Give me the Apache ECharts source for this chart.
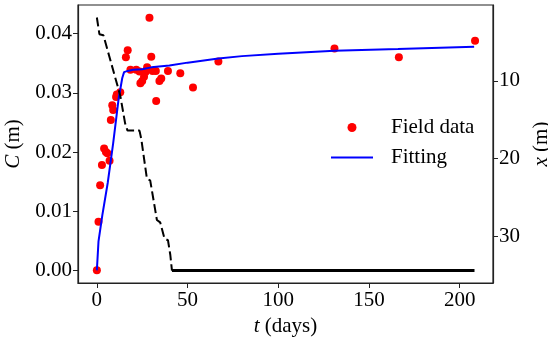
<!DOCTYPE html>
<html>
<head>
<meta charset="utf-8">
<script src="https://cdn.jsdelivr.net/npm/echarts@6/dist/echarts.min.js"></script>
<style>
html,body{margin:0;padding:0;background:#fff;}
#c{width:548px;height:340px;}
</style>
</head>
<body>
<div id="c"></div>
<script>
// Field data (t in days, C in m)
var fieldT = [0, 0.9, 1.8, 2.8, 4, 5, 5.8, 7, 7.7, 8.5, 9, 10.6, 11, 12.9, 16, 17, 18.5, 21.7, 23.5, 24, 25, 26, 26.8, 27.7, 29, 30, 30.7, 32.5, 32.7, 34.5, 35.5, 39.2, 46, 53, 67, 131, 166.5, 208.5];
var fieldC = [0, 0.0082, 0.0144, 0.0178, 0.0206, 0.0200, 0.0198, 0.0185, 0.0254, 0.0279, 0.0271, 0.0293, 0.0297, 0.0301, 0.0360, 0.0372, 0.0339, 0.0339, 0.0336, 0.0316, 0.0320, 0.0327, 0.0335, 0.0343, 0.0427, 0.0361, 0.0337, 0.0337, 0.0286, 0.0320, 0.0324, 0.0337, 0.0333, 0.0309, 0.0353, 0.0375, 0.0360, 0.0388];
// Fitting curve
var fitT = [0, 0.9, 3, 6, 9, 12, 14, 15, 17, 20, 25, 30, 40, 50, 67, 80, 100, 131, 166, 208];
var fitC = [0, 0.0049, 0.0093, 0.0148, 0.0215, 0.0290, 0.0325, 0.0335, 0.0337, 0.0339, 0.0340, 0.0343, 0.0346, 0.0351, 0.0358, 0.0362, 0.0366, 0.0371, 0.0374, 0.0378];
// Front position x (m) vs t (dashed part)
var frontT = [0, 1.4, 3.6, 12.9, 15.6, 16.9, 23.5, 24.5, 27.6, 29.4, 33.1, 34.9, 37.3, 39.2, 40.5, 41.4];
var frontX = [1.86, 4.0, 4.14, 11.9, 15.5, 16.4, 16.4, 17.5, 22.6, 22.8, 27.9, 28.2, 30.3, 30.5, 32.4, 34.4];
// Front position, flat part
var flatT = [41.4, 208.2];
var flatX = [34.4, 34.4];
// Tick labels
var tTicks = [0, 50, 100, 150, 200];
var cTicks = [0, 0.01, 0.02, 0.03, 0.04];
var xTicks = [10, 20, 30];

function zip(a, b) { return a.map(function (v, i) { return [v, b[i]]; }); }

var FONT = "'Liberation Serif', 'Times New Roman', serif";
var FS = 21;
function nameStyle() {
  return { fontFamily: FONT, fontSize: FS, color: '#000', rich: { i: { fontStyle: 'italic', fontFamily: FONT, fontSize: FS, color: '#000' } } };
}
var chart = echarts.init(document.getElementById('c'));
chart.setOption({
  animation: false,
  textStyle: { fontFamily: FONT },
  grid: { left: 78, right: 55, top: 5, bottom: 57, show: true, borderColor: '#222', borderWidth: 1.2, containLabel: false, outerBoundsMode: 'none' },
  legend: {
    orient: 'vertical', left: 330, top: 117, padding: 0,
    itemWidth: 42, itemHeight: 9, itemGap: 9,
    textStyle: { fontFamily: FONT, fontSize: FS, color: '#000', padding: [0, 0, 0, 13] },
    data: [{ name: 'Field data', icon: 'circle' }, { name: 'Fitting', itemStyle: { opacity: 0 } }]
  },
  xAxis: {
    type: 'value', min: -10.4, max: 218.4,
    name: '{i|t} (days)', nameLocation: 'middle', nameGap: 28,
    nameTextStyle: nameStyle(),
    axisLine: { show: true, onZero: false, lineStyle: { color: '#222', width: 1.2 } },
    axisTick: { show: true, inside: false, length: 5, customValues: tTicks, lineStyle: { color: '#222' } },
    axisLabel: { customValues: tTicks, fontFamily: FONT, fontSize: FS, color: '#000', margin: 7, formatter: function (v) { return String(v); } },
    splitLine: { show: false }
  },
  yAxis: [{
    type: 'value', min: -0.00214, max: 0.04484, position: 'left',
    name: '{i|C} (m)', nameLocation: 'middle', nameGap: 50, nameRotate: 90,
    nameTextStyle: nameStyle(),
    axisLine: { show: true, onZero: false, lineStyle: { color: '#222', width: 1.2 } },
    axisTick: { show: true, length: 5, customValues: cTicks, lineStyle: { color: '#222' } },
    axisLabel: { customValues: cTicks, fontFamily: FONT, fontSize: FS, color: '#000', margin: 6, formatter: function (v) { return v.toFixed(2); } },
    splitLine: { show: false }
  }, {
    type: 'value', min: 0.25, max: 36.0, inverse: true, position: 'right',
    name: '{i|x} (m)', nameLocation: 'middle', nameGap: 28, nameRotate: 90,
    nameTextStyle: nameStyle(),
    axisLine: { show: true, onZero: false, lineStyle: { color: '#222', width: 1.2 } },
    axisTick: { show: true, length: 5, customValues: xTicks, lineStyle: { color: '#222' } },
    axisLabel: { customValues: xTicks, fontFamily: FONT, fontSize: FS, color: '#000', margin: 6 },
    splitLine: { show: false }
  }],
  series: [{
    name: 'Field data', type: 'scatter', yAxisIndex: 0, z: 2,
    symbol: 'circle', symbolSize: 8,
    itemStyle: { color: '#ff0000', opacity: 1 },
    data: zip(fieldT, fieldC)
  }, {
    name: 'Fitting', type: 'line', yAxisIndex: 0, z: 3,
    showSymbol: false, symbol: 'none', smooth: false,
    lineStyle: { color: '#0000ff', width: 2 },
    itemStyle: { color: '#0000ff' },
    data: zip(fitT, fitC)
  }, {
    name: 'front', type: 'line', yAxisIndex: 1, z: 4,
    showSymbol: false, symbol: 'none',
    lineStyle: { color: '#000', width: 2, type: [9, 4] },
    data: zip(frontT, frontX)
  }, {
    name: 'frontFlat', type: 'line', yAxisIndex: 1, z: 4,
    showSymbol: false, symbol: 'none',
    lineStyle: { color: '#000', width: 3 },
    data: zip(flatT, flatX)
  }]
});
</script>
</body>
</html>
